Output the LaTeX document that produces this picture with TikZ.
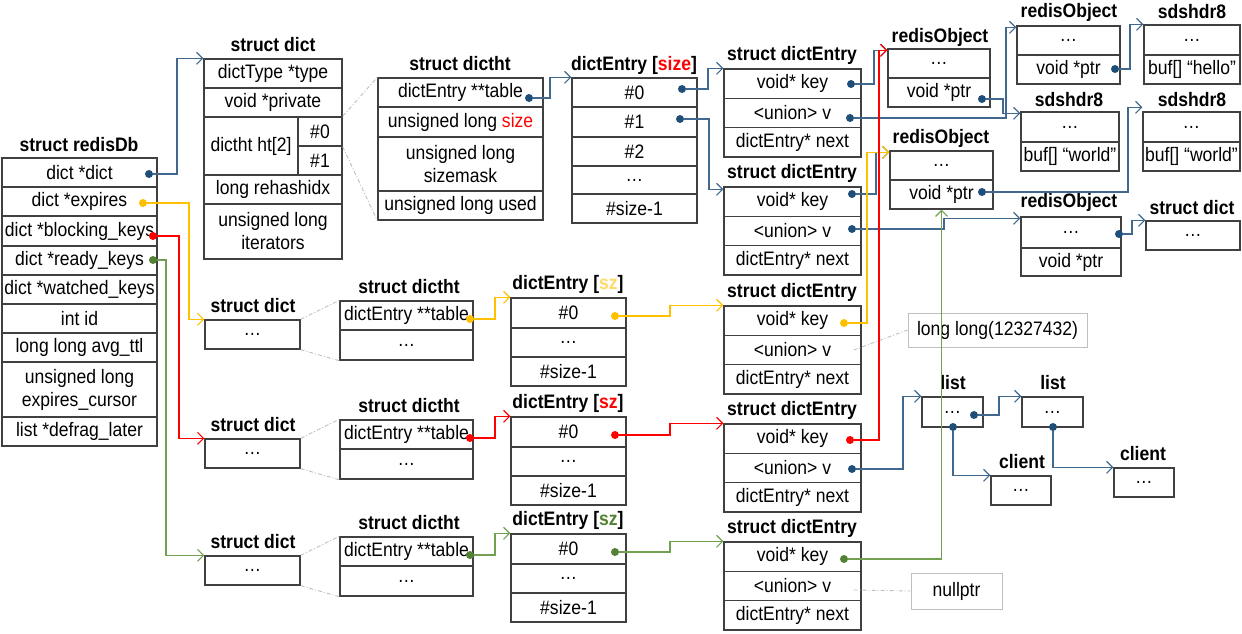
\documentclass[tikz,border=0pt]{standalone}
\usepackage{fontspec}
\setmainfont{Liberation Sans}[FakeStretch=0.9]
\usepackage{tikz}
\usetikzlibrary{arrows.meta}

\definecolor{boxgray}{HTML}{404040}
\definecolor{notegray}{HTML}{BFBFBF}
\definecolor{lnblue}{HTML}{41688F}
\definecolor{dotblue}{HTML}{1F4E79}
\definecolor{clrY}{HTML}{FFC000}
\definecolor{clrR}{HTML}{FF0000}
\definecolor{clrG}{HTML}{548235}
\definecolor{lnG}{HTML}{70A050}
\definecolor{szY}{HTML}{FFD966}

% one field of a struct: [style]{name}{x1}{y1}{x2}{y2}{text}
\newcommand\fld[7][]{\node[fld,#1,minimum width={(#5)-(#3)},minimum height={(#6)-(#4)}] (#2) at ({((#3)+(#5))/2},{((#4)+(#6))/2}) {#7};}

\begin{document}
\begin{tikzpicture}[x=1pt, y=-1pt,
  every node/.style={font=\fontsize{19.5}{23}\selectfont},
  fld/.style={draw=boxgray, line width=1.4pt, inner sep=0pt, align=center},
  ttl/.style={font=\fontsize{19.5}{23}\selectfont\bfseries, inner sep=0pt},
  note/.style={draw=notegray, line width=1pt},
  pdot/.style={circle, fill=#1, inner sep=0pt, minimum size=8pt},
  ptr/.style={line width=1.1pt, -{Straight Barb[length=6pt,width=12pt]}},
  zoomln/.style={draw=notegray, line width=0.9pt, dash pattern=on 4pt off 2pt on 1pt off 2pt}]
  \useasboundingbox (0,0) rectangle (1242,634);

  % struct redisDb
  \node[ttl] (tdb) at (79,145) {struct redisDb};
  \fld{db1}{2}{158}{157}{187}{dict *dict}
  \fld{db2}{2}{187}{157}{216}{dict *expires}
  \fld{db3}{2}{216}{157}{246}{dict *blocking\_keys}
  \fld{db4}{2}{246}{157}{275}{dict *ready\_keys}
  \fld{db5}{2}{275}{157}{304}{dict *watched\_keys}
  \fld{db6}{2}{304}{157}{333}{int id}
  \fld{db7}{2}{333}{157}{362}{long long avg\_ttl}
  \fld{db8}{2}{362}{157}{417}{unsigned long\\expires\_cursor}
  \fld{db9}{2}{417}{157}{446}{list *defrag\_later}

  % struct dict of dict *dict
  \node[ttl] (tdict) at (273,45) {struct dict};
  \fld{d1}{204}{59}{342}{88}{dictType *type}
  \fld{d2}{204}{88}{342}{117}{void *private}
  \fld{d3}{204}{117}{298}{175}{dictht ht[2]}
  \fld{d3a}{298}{117}{342}{146}{\#0}
  \fld{d3b}{298}{146}{342}{175}{\#1}
  \fld{d4}{204}{175}{342}{204}{long rehashidx}
  \fld{d5}{204}{204}{342}{259}{unsigned long\\iterators}

  % struct dictht
  \node[ttl] (tht) at (460,64) {struct dictht};
  \fld{t1}{378}{78}{543}{107}{dictEntry **table}
  \fld{t2}{378}{107}{543}{137}{unsigned long \textcolor{clrR}{size}}
  \fld{t3}{378}{137}{543}{191}{unsigned long\\sizemask}
  \fld{t4}{378}{191}{543}{220}{unsigned long used}

  % dictEntry table
  \node[ttl] (tarr) at (634,65) {dictEntry [\textcolor{clrR}{size}]};
  \fld{a0}{572}{78}{697}{107}{\#0}
  \fld{a1}{572}{107}{697}{137}{\#1}
  \fld{a2}{572}{137}{697}{166}{\#2}
  \fld{a3}{572}{166}{697}{194}{…}
  \fld{a4}{572}{194}{697}{223}{\#size-1}

  % dict entries
  \foreach \n/\y in {e1/69, e2/187, ey/306, er/424, eg/542} {
    \node[ttl] (t\n) at (792,\y-13.5) {struct dictEntry};
    \fld{\n-k}{724}{\y}{861}{\y+29.3}{void* key}
    \fld{\n-v}{724}{\y+29.3}{861}{\y+58.6}{<union> v}
    \fld{\n-n}{724}{\y+58.6}{861}{\y+88}{dictEntry* next}
  }

  % redis objects and sds
  \node[ttl] (tro1) at (940,37) {redisObject};
  \fld{ro1a}{888}{49}{990}{78}{…}
  \fld{ro1b}{888}{78}{990}{107}{void *ptr}
  \node[ttl] (tro2) at (941,138) {redisObject};
  \fld{ro2a}{890}{151}{993}{180}{…}
  \fld{ro2b}{890}{180}{993}{209}{void *ptr}
  \node[ttl] (trot) at (1069,12) {redisObject};
  \fld{rota}{1017}{26}{1120}{55}{…}
  \fld{rotb}{1017}{55}{1120}{84}{void *ptr}
  \node[ttl] (tsdsh) at (1192,12) {sdshdr8};
  \fld{sdsha}{1144}{25}{1240}{55}{…}
  \fld{sdshb}{1144}{55}{1240}{84}{buf[] “hello”}
  \node[ttl] (tsdsl) at (1069,100) {sdshdr8};
  \fld{sdsla}{1021}{112}{1119}{142}{…}
  \fld{sdslb}{1021}{142}{1119}{171}{buf[] “world”}
  \node[ttl] (tsdsr) at (1192,100) {sdshdr8};
  \fld{sdsra}{1143}{112}{1240}{142}{…}
  \fld{sdsrb}{1143}{142}{1240}{171}{buf[] “world”}
  \node[ttl] (tro3) at (1069,202) {redisObject};
  \fld{ro3a}{1021}{217}{1121}{248}{…}
  \fld{ro3b}{1021}{248}{1121}{276}{void *ptr}
  \node[ttl] (tsdr) at (1192,208) {struct dict};
  \fld{sdra}{1146}{221}{1240}{250}{…}

  % lists and clients
  \node[ttl] (tl1) at (953,383) {list};
  \fld{l1}{922}{397}{983}{427}{…}
  \node[ttl] (tl2) at (1053,383) {list};
  \fld{l2}{1022}{397}{1083}{427}{…}
  \node[ttl] (tc1) at (1022,462) {client};
  \fld{c1}{991}{476}{1051}{505}{…}
  \node[ttl] (tc2) at (1143,454) {client};
  \fld{c2}{1114}{468}{1174}{497}{…}

  % values
  \fld[note]{nlong}{908}{313}{1087}{347}{long long(12327432)}
  \fld[note]{nnull}{911}{573}{1002}{609}{nullptr}

  % expires, blocking_keys, ready_keys dicts
  \foreach \c/\y/\dc/\lc/\sc in {y/320/clrY/clrY/szY, r/439/clrR/clrR/clrR, g/556/clrG/lnG/clrG} {
    \node[ttl] (tsd\c) at (253,\y-14) {struct dict};
    \fld{sd\c}{205}{\y}{300}{\y+29}{…}
    \node[ttl] (tht\c) at (409,\y-33) {struct dictht};
    \fld{ht\c1}{340}{\y-19}{473}{\y+10}{dictEntry **table}
    \fld{ht\c2}{340}{\y+10}{473}{\y+40}{…}
    \node[ttl] (tae\c) at (568,\y-35.5) {dictEntry [\textcolor{\sc}{sz}]};
    \fld{ae\c0}{511}{\y-22}{626}{\y+8}{\#0}
    \fld{ae\c1}{511}{\y+8}{626}{\y+37}{…}
    \fld{ae\c2}{511}{\y+37}{626}{\y+66}{\#size-1}
    \draw[zoomln] (sd\c.north east) -- (ht\c1.north west);
    \draw[zoomln] (sd\c.south east) -- (ht\c2.south west);
    \node[pdot=\dc] (ptab\c) at (470,\y-1) {};
    \node[pdot=\dc] (pae\c) at (615,\y-4) {};
    \draw[ptr, color=\lc] (ptab\c) -- ++(25,0) |- (ae\c0.north west);
    \draw[ptr, color=\lc] (pae\c) -- ++(55,0) |- (e\c-k.north west);
  }

  % ht[0] zoom
  \draw[zoomln] (d3a.north east) -- (t1.north west);
  \draw[zoomln] (d3a.south east) -- (t4.south west);
  \draw[zoomln] ([xshift=-8pt]ey-v.east) -- (nlong.west);
  \draw[zoomln] ([xshift=-8pt,yshift=-4pt]eg-v.east) -- (nnull.west);

  % pointers
  \node[pdot=dotblue] (pdict) at (149,174) {};
  \node[pdot=clrY] (pexp) at (143,203) {};
  \node[pdot=clrR] (pblk) at (153,236) {};
  \node[pdot=clrG] (prdy) at (153,260) {};
  \node[pdot=dotblue] (ptab) at (529,98) {};
  \node[pdot=dotblue] (pa0) at (682,89) {};
  \node[pdot=dotblue] (pa1) at (680,119) {};
  \node[pdot=dotblue] (pk1) at (851,84) {};
  \node[pdot=dotblue] (pv1) at (850,118) {};
  \node[pdot=dotblue] (pk2) at (852,194) {};
  \node[pdot=dotblue] (pv2) at (852,229) {};
  \node[pdot=dotblue] (pro1) at (982,99) {};
  \node[pdot=dotblue] (pro2) at (982,192) {};
  \node[pdot=dotblue] (prot) at (1115,69) {};
  \node[pdot=dotblue] (pro3) at (1119,234) {};
  \node[pdot=clrY] (pky) at (844,323) {};
  \node[pdot=clrR] (pkr) at (850,440) {};
  \node[pdot=clrG] (pkg) at (844,559) {};
  \node[pdot=dotblue] (pvr) at (852,469) {};
  \node[pdot=dotblue] (pl1r) at (974,415) {};
  \node[pdot=dotblue] (pl1b) at (953,427) {};
  \node[pdot=dotblue] (pl2b) at (1053,427) {};

  \draw[ptr, lnblue] (pdict) -- ++(28,0) |- (d1.north west);
  \draw[ptr, clrY] (pexp) -- ++(46,0) |- (sdy.north west);
  \draw[ptr, clrR] (pblk) -- ++(26,0) |- (sdr.north west);
  \draw[ptr, lnG] (prdy) -- ++(13,0) |- (sdg.north west);
  \draw[ptr, lnblue] (ptab) -- ++(21,0) |- (a0.north west);
  \draw[ptr, lnblue] (pa0) -- ++(26,0) |- (e1-k.north west);
  \draw[ptr, lnblue] (pa1) -- ++(29,0) |- ([yshift=-3pt]e2-k.north west);
  \draw[ptr, lnblue] (pk1) -- ++(23,0) |- ([yshift=-2pt]ro1a.north west);
  \draw[ptr, lnblue] (pv1) -- ++(156,0) |- ([yshift=-2pt]rota.north west);
  \draw[ptr, lnblue] (pro1) -- ++(21,0) |- ([yshift=-2pt]sdsla.north west);
  \draw[ptr, lnblue] (prot) -- ++(15,0) |- (sdsha.north west);
  \draw[ptr, lnblue] (pro2) -- ++(146,0) |- ([yshift=4pt]sdsra.north west);
  \draw[ptr, lnblue] (pk2) -- ++(24,0) |- ([yshift=-2pt]ro2a.north west);
  \draw[ptr, lnblue] (pv2) -- ++(92,0) |- ([yshift=-2pt]ro3a.north west);
  \draw[ptr, lnblue] (pro3) -- ++(13,0) |- (sdra.north west);
  \draw[ptr, clrY] (pky) -- ++(23,0) |- ([yshift=-2pt]ro2a.north west);
  \draw[ptr, clrR] (pkr) -- ++(29,0) |- ([yshift=-2pt]ro1a.north west);
  \draw[ptr, lnG] (pkg) -| (ro2b.south);
  \draw[ptr, lnblue] (pvr) -- ++(51,0) |- (l1.north west);
  \draw[ptr, lnblue] (pl1r) -- ++(25,0) |- (l2.north west);
  \draw[ptr, lnblue] (pl1b) |- (c1.north west);
  \draw[ptr, lnblue] (pl2b) |- (c2.north west);
\end{tikzpicture}
\end{document}
